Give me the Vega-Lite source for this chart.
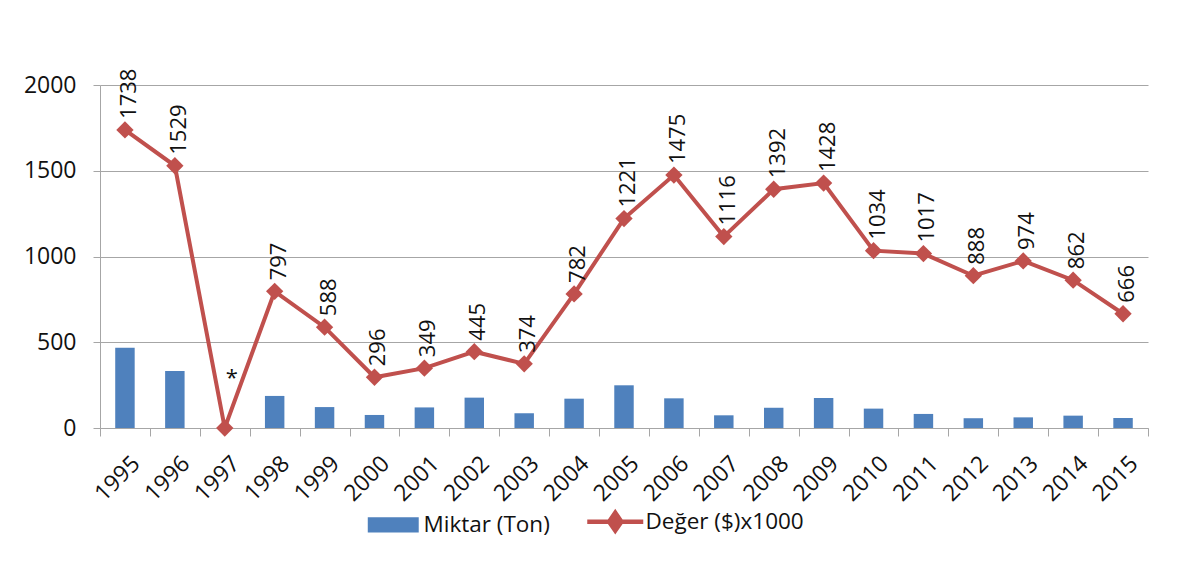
{
  "$schema": "https://vega.github.io/schema/vega-lite/v6.json",
  "width": 1048,
  "height": 343,
  "autosize": {"type": "none"},
  "padding": {"left": 100, "top": 85, "right": 36, "bottom": 139},
  "background": "white",
  "config": {
    "view": {"stroke": null},
    "font": "Open Sans",
    "axis": {"labelFont": "Open Sans", "labelColor": "#111111", "domainColor": "#A6A6A6", "tickColor": "#A6A6A6", "gridColor": "#A6A6A6", "title": null}
  },
  "data": {
    "values": [
      {"year": "1995", "miktar": 468, "deger": 1738},
      {"year": "1996", "miktar": 332, "deger": 1529},
      {"year": "1997", "miktar": 0, "deger": 0, "note": "*"},
      {"year": "1998", "miktar": 187, "deger": 797},
      {"year": "1999", "miktar": 122, "deger": 588},
      {"year": "2000", "miktar": 76, "deger": 296},
      {"year": "2001", "miktar": 120, "deger": 349},
      {"year": "2002", "miktar": 177, "deger": 445},
      {"year": "2003", "miktar": 86, "deger": 374},
      {"year": "2004", "miktar": 171, "deger": 782},
      {"year": "2005", "miktar": 249, "deger": 1221},
      {"year": "2006", "miktar": 173, "deger": 1475},
      {"year": "2007", "miktar": 74, "deger": 1116},
      {"year": "2008", "miktar": 118, "deger": 1392},
      {"year": "2009", "miktar": 175, "deger": 1428},
      {"year": "2010", "miktar": 113, "deger": 1034},
      {"year": "2011", "miktar": 82, "deger": 1017},
      {"year": "2012", "miktar": 57, "deger": 888},
      {"year": "2013", "miktar": 62, "deger": 974},
      {"year": "2014", "miktar": 72, "deger": 862},
      {"year": "2015", "miktar": 58, "deger": 666}
    ]
  },
  "encoding": {
    "x": {
      "field": "year",
      "type": "ordinal",
      "scale": {"paddingInner": 0, "paddingOuter": 0},
      "axis": {"labelAngle": -45, "labelFontSize": 23, "tickBand": "extent", "tickSize": 8, "grid": false, "title": null, "labelPadding": 16, "labelOffset": 3}
    }
  },
  "layer": [
    {
      "mark": {"type": "bar", "width": {"band": 0.39}, "color": "#4F81BD"},
      "encoding": {
        "y": {
          "field": "miktar",
          "type": "quantitative",
          "scale": {"domain": [0, 2000]},
          "axis": {"values": [0, 500, 1000, 1500, 2000], "format": "d", "grid": true, "tickSize": 7, "labelFontSize": 23, "labelPadding": 17, "title": null}
        },
        "color": {
          "datum": "Miktar (Ton)",
          "scale": {"domain": ["Miktar (Ton)", "Değer ($)x1000"], "range": ["#4F81BD", "#C0504D"]},
          "legend": {
            "orient": "none",
            "legendX": 282,
            "legendY": 425,
            "direction": "horizontal",
            "title": null,
            "labelFontSize": 22.5,
            "labelColor": "#111111",
            "labelFont": "Open Sans",
            "symbolSize": 3136,
            "columnPadding": 28,
            "labelOffset": 19,
            "encode": {
              "symbols": {
                "update": {
                  "shape": {"signal": "datum.label === 'Miktar (Ton)' ? 'M-0.91,-0.27H0.91V0.27H-0.91Z' : 'M-1,0H1M0,-0.32L0.22,0L0,0.32L-0.22,0Z'"},
                  "fill": {"signal": "datum.label === 'Miktar (Ton)' ? '#4F81BD' : '#C0504D'"},
                  "stroke": {"signal": "datum.label === 'Miktar (Ton)' ? '#4F81BD' : '#C0504D'"},
                  "strokeWidth": {"signal": "datum.label === 'Miktar (Ton)' ? 0 : 4.5"},
                  "fillOpacity": {"value": 1},
                  "opacity": {"value": 1}
                }
              }
            }
          }
        }
      }
    },
    {
      "mark": {"type": "line", "strokeWidth": 4, "point": {"shape": "diamond", "size": 300, "filled": true, "opacity": 1}},
      "encoding": {
        "y": {"field": "deger", "type": "quantitative", "title": null},
        "color": {"datum": "Değer ($)x1000"}
      }
    },
    {
      "transform": [{"filter": "datum.year !== '1997'"}],
      "mark": {"type": "text", "angle": 270, "align": "left", "baseline": "middle", "dx": 11, "dy": 4, "fontSize": 22, "color": "#111111", "font": "Open Sans"},
      "encoding": {
        "y": {"field": "deger", "type": "quantitative"},
        "text": {"field": "deger", "type": "quantitative", "format": "d"}
      }
    },
    {
      "transform": [{"filter": "datum.note === '*'"}],
      "mark": {"type": "text", "align": "center", "baseline": "middle", "dx": 7, "dy": -50, "fontSize": 22, "color": "#111111", "font": "Open Sans"},
      "encoding": {
        "y": {"field": "deger", "type": "quantitative"},
        "text": {"field": "note"}
      }
    }
  ]
}
